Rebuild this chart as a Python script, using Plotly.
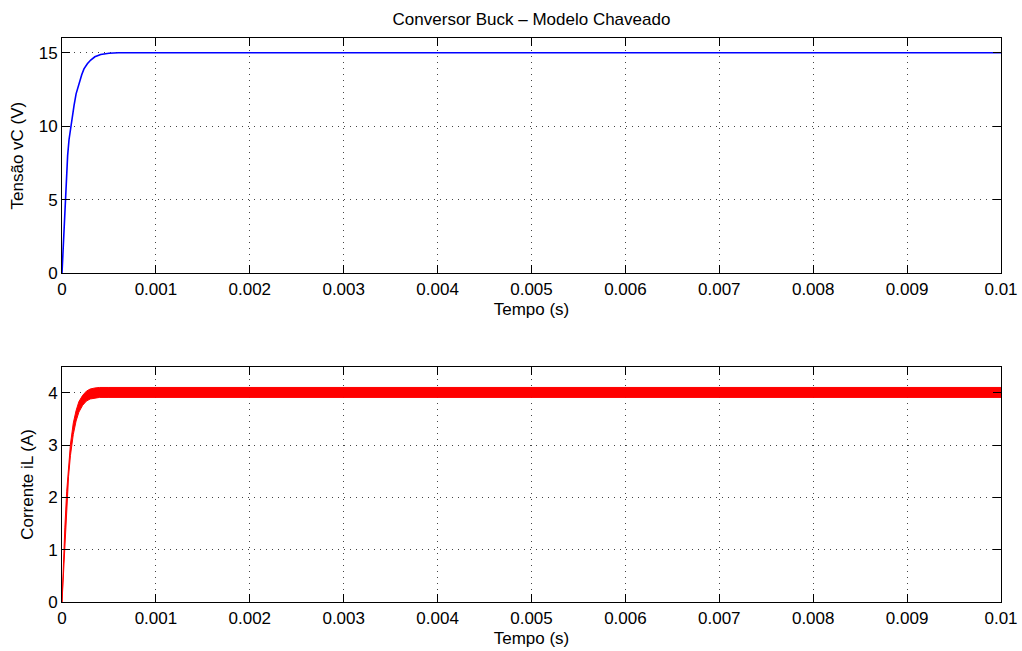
import plotly.graph_objects as go

# ---------------- data ----------------
# Capacitor voltage vC (V) vs time (s)
t_v = [0, 1e-5, 2e-5, 3e-5, 4.65e-5, 6e-5, 7.5e-5, 9.3e-5, 1.1e-4, 1.28e-4,
       1.5e-4, 1.81e-4, 2.1e-4, 2.34e-4, 2.7e-4, 3.06e-4, 3.5e-4, 4.12e-4,
       5e-4, 6e-4, 1e-3, 0.002, 0.004, 0.006, 0.008, 0.01]
v_c = [0, 1.5, 3.0, 4.4, 6.5, 8.0, 9.1, 10.0, 10.9, 11.4,
       12.2, 12.9, 13.5, 13.9, 14.25, 14.5, 14.72, 14.88,
       14.96, 15.0, 15.0, 15.0, 15.0, 15.0, 15.0, 15.0]

# Inductor current iL (A): envelope of the switching ripple
t_i = [0, 1e-5, 2e-5, 3e-5, 5e-5, 7e-5, 9e-5, 1.2e-4, 1.5e-4, 1.8e-4,
       2.2e-4, 2.6e-4, 3e-4, 3.5e-4, 4e-4, 5e-4, 6e-4, 8e-4, 1e-3,
       0.002, 0.004, 0.006, 0.008, 0.01]
i_upper = [0, 0.55, 1.0, 1.42, 2.12, 2.62, 3.02, 3.42, 3.66, 3.83,
           3.95, 4.03, 4.07, 4.09, 4.10, 4.10, 4.10, 4.10, 4.10,
           4.10, 4.10, 4.10, 4.10, 4.10]
i_lower = [0, 0.35, 0.8, 1.2, 1.9, 2.4, 2.8, 3.2, 3.46, 3.63,
           3.76, 3.84, 3.88, 3.9, 3.91, 3.91, 3.91, 3.91, 3.91,
           3.91, 3.91, 3.91, 3.91, 3.91]

x_ticks = [0, 0.001, 0.002, 0.003, 0.004, 0.005, 0.006, 0.007, 0.008, 0.009, 0.01]
x_ticklabels = ["0", "0.001", "0.002", "0.003", "0.004", "0.005", "0.006",
                "0.007", "0.008", "0.009", "0.01"]
yv_ticks = [0, 5, 10, 15]
yi_ticks = [0, 1, 2, 3, 4]

title = "Conversor Buck \u2013 Modelo Chaveado"
x_title = "Tempo (s)"
yv_title = "Tens\u00e3o vC (V)"
yi_title = "Corrente iL (A)"

# ---------------- figure ----------------
W, H = 1022, 651
FONT = "Liberation Sans, Arial, Helvetica, sans-serif"
FS = 17

fig = go.Figure()

fig.add_trace(go.Scatter(x=t_v, y=v_c, mode="lines",
                         line=dict(color="#0000ff", width=1.6),
                         xaxis="x", yaxis="y", showlegend=False))

fig.add_trace(go.Scatter(x=t_i, y=i_lower, mode="lines",
                         line=dict(color="#ff0000", width=1),
                         xaxis="x2", yaxis="y2", showlegend=False))
fig.add_trace(go.Scatter(x=t_i, y=i_upper, mode="lines",
                         line=dict(color="#ff0000", width=1),
                         fill="tonexty", fillcolor="#ff0000",
                         xaxis="x2", yaxis="y2", showlegend=False))

x0, x1 = 62 / W, 1001 / W
top_dom = [(H - 273.3) / H, (H - 38) / H]
bot_dom = [(H - 602.3) / H, (H - 366.5) / H]

common_x = dict(
    range=[0, 0.01], tickvals=x_ticks, ticktext=x_ticklabels,
    ticks="inside", ticklen=8, tickcolor="black", tickwidth=1,
    showline=True, linecolor="black", linewidth=1, mirror="ticks",
    showgrid=True, gridcolor="#444444", gridwidth=1, griddash="1px,5px",
    zeroline=False, tickfont=dict(family=FONT, size=FS, color="black"),
    domain=[x0, x1], automargin=False,
)
common_y = dict(
    ticks="inside", ticklen=8, tickcolor="black", tickwidth=1,
    showline=True, linecolor="black", linewidth=1, mirror="ticks",
    showgrid=True, gridcolor="#444444", gridwidth=1, griddash="1px,5px",
    zeroline=False, tickfont=dict(family=FONT, size=FS, color="black"),
    automargin=False,
)

fig.update_layout(
    width=W, height=H,
    margin=dict(l=0, r=0, t=0, b=0, pad=0, autoexpand=False),
    paper_bgcolor="white", plot_bgcolor="white",
    font=dict(family=FONT, size=FS, color="black"),
    title=dict(text=title, x=531.5 / W, xanchor="center",
               y=1 - 19 / H, yanchor="middle", yref="container",
               font=dict(family=FONT, size=FS, color="black")),
    xaxis=dict(**common_x, anchor="y",
               title=dict(text=x_title, standoff=5,
                          font=dict(family=FONT, size=FS))),
    yaxis=dict(**common_y, domain=top_dom, anchor="x", range=[0, 16],
               tickvals=yv_ticks,
               title=dict(text=yv_title, standoff=10,
                          font=dict(family=FONT, size=FS))),
    xaxis2=dict(**common_x, anchor="y2",
                title=dict(text=x_title, standoff=5,
                           font=dict(family=FONT, size=FS))),
    yaxis2=dict(**common_y, domain=bot_dom, anchor="x2", range=[0, 4.5],
                tickvals=yi_ticks,
                title=dict(text=yi_title, standoff=10,
                           font=dict(family=FONT, size=FS))),
)

fig.write_html("out.html")
